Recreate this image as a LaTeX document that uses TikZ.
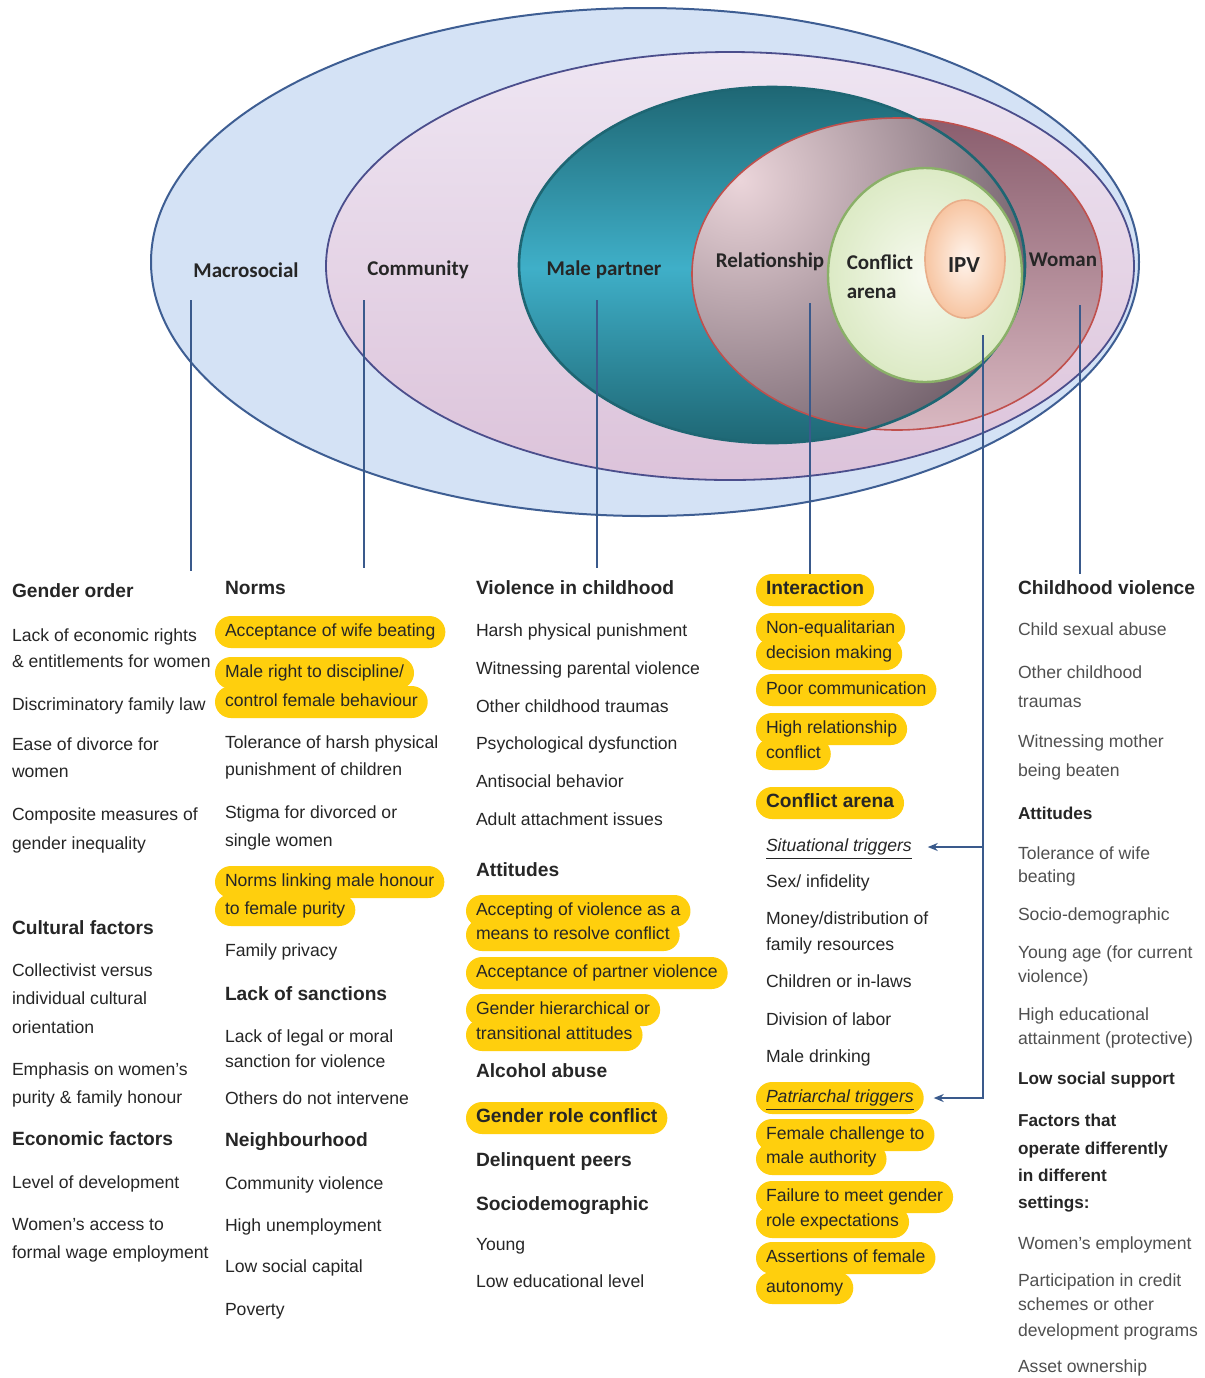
\documentclass[tikz,border=0pt]{standalone}
\usepackage{fontspec}
\setmainfont{Liberation Sans}
\newfontfamily\ecolabelfont{Carlito}
\usetikzlibrary{arrows.meta,calc,positioning}
\definecolor{EcoMacro}{HTML}{D4E2F5}
\definecolor{EcoMacroLine}{HTML}{3E5E93}
\definecolor{EcoCommTop}{HTML}{EEE5F2}
\definecolor{EcoCommBot}{HTML}{DCC3DA}
\definecolor{EcoCommLine}{HTML}{4B4E8C}
\definecolor{EcoTealDark}{HTML}{1E6673}
\definecolor{EcoTealLight}{HTML}{3FAFC8}
\definecolor{EcoWomanTop}{HTML}{8A5E6E}
\definecolor{EcoWomanBot}{HTML}{D9B8C1}
\definecolor{EcoWomanLine}{HTML}{C0504D}
\definecolor{EcoRelLight}{HTML}{EBD5DA}
\definecolor{EcoRelDark}{HTML}{544450}
\definecolor{EcoArenaIn}{HTML}{F7FAF0}
\definecolor{EcoArenaOut}{HTML}{DCEAC5}
\definecolor{EcoArenaLine}{HTML}{8AB068}
\definecolor{EcoIpvIn}{HTML}{FFF4EC}
\definecolor{EcoIpvOut}{HTML}{F7C5A2}
\definecolor{EcoIpvLine}{HTML}{E9AE8A}
\definecolor{EcoLink}{HTML}{3A5A8C}
\definecolor{EcoMark}{HTML}{FFCF0D}
\definecolor{EcoInk}{HTML}{262626}
\definecolor{EcoSoft}{HTML}{505050}
\tikzset{
  factor/.style={anchor=west,inner xsep=5pt,inner ysep=0pt,outer sep=0pt,
    minimum height=16pt,text height=6.6pt,text depth=1.9pt,rounded corners=8pt,
    text=EcoInk,font=\fontsize{8.8}{10}\selectfont},
  factorhead/.style={factor,font=\bfseries\fontsize{9.6}{11}\selectfont},
  marked/.style={factor,fill=EcoMark},
  markedhead/.style={factorhead,fill=EcoMark},
  womanfactor/.style={factor,text=EcoSoft},
  womanhead/.style={factor,font=\bfseries\fontsize{8.6}{10}\selectfont},
  level/.style={font=\ecolabelfont\bfseries\fontsize{10.5}{14.5}\selectfont,
    text=EcoInk,align=left,inner sep=0pt},
  link/.style={EcoLink,line width=0.8pt},
}

\begin{document}
\begin{tikzpicture}[x=0.5pt,y=-0.5pt]
  \useasboundingbox (0,0) rectangle (1205,1378);
  \fill[white] (0,0) rectangle (1205,1378);

  % nested levels
  \filldraw[fill=EcoMacro,draw=EcoMacroLine,line width=1pt]
    (645,262) ellipse[x radius=494,y radius=254];
  \shade[top color=EcoCommTop,bottom color=EcoCommBot]
    (730,266) ellipse[x radius=404,y radius=214];
  \draw[EcoCommLine,line width=0.9pt] (730,266) ellipse[x radius=404,y radius=214];
  \begin{scope}
    \clip (772,265) ellipse[x radius=253,y radius=178];
    \shade[top color=EcoTealDark,bottom color=EcoTealLight] (515,85) rectangle (1030,268);
    \shade[top color=EcoTealLight,bottom color=EcoTealDark] (515,268) rectangle (1030,445);
  \end{scope}
  \shade[top color=EcoWomanTop,bottom color=EcoWomanBot]
    (897,274) ellipse[x radius=205,y radius=156];
  \begin{scope}
    \clip (772,265) ellipse[x radius=253,y radius=178];
    \fill[EcoRelDark] (897,274) ellipse[x radius=205,y radius=156];
    \clip (897,274) ellipse[x radius=205,y radius=156];
    \shade[inner color=EcoRelLight,outer color=EcoRelDark] (740,180) circle[radius=380];
  \end{scope}
  \draw[EcoWomanLine,line width=0.8pt] (897,274) ellipse[x radius=205,y radius=156];
  \draw[EcoTealDark,line width=1.3pt] (772,265) ellipse[x radius=253,y radius=178];
  \shade[inner color=EcoArenaIn,outer color=EcoArenaOut]
    (925,275) ellipse[x radius=97,y radius=107];
  \draw[EcoArenaLine,line width=1.2pt] (925,275) ellipse[x radius=97,y radius=107];
  \shade[inner color=EcoIpvIn,outer color=EcoIpvOut]
    (965,259) ellipse[x radius=40,y radius=59];
  \draw[EcoIpvLine,line width=0.8pt] (965,259) ellipse[x radius=40,y radius=59];

  \node[level] (lbl-macro) at (246,270) {Macrosocial};
  \node[level] (lbl-comm) at (418,270) {Community};
  \node[level] (lbl-partner) at (604,270) {Male partner};
  \node[level] (lbl-rel) at (770,262) {Relationship};
  \node[level] (lbl-arena) at (880,277) {Conflict\\arena};
  \node[level,font=\ecolabelfont\bfseries\fontsize{11.5}{13}\selectfont]
    (lbl-ipv) at (964,265) {IPV};
  \node[level] (lbl-woman) at (1063,260) {Woman};

  % factor lists
  \foreach \sty/\yy/\txt [count=\i] in {factorhead/593/Gender order,
      factor/637/Lack of economic rights,factor/663/\& entitlements for women,
      factor/706/Discriminatory family law,factor/746/Ease of divorce for,
      factor/773/women,factor/816/Composite measures of,factor/845/gender inequality,
      factorhead/930/Cultural factors,factor/972/Collectivist versus,
      factor/1000/individual cultural,factor/1029/orientation,
      factor/1071/Emphasis on women's,factor/1099/purity \& family honour,
      factorhead/1141/Economic factors,factor/1184/Level of development,
      factor/1226/Women's access to,factor/1254/formal wage employment}
    \node[\sty] (c1-\i) at (2,\yy) {\txt};

  \foreach \sty/\yy/\txt [count=\i] in {factorhead/590/Norms,
      marked/632/Acceptance of wife beating,marked/673/{Male right to discipline/},
      marked/702/control female behaviour,factor/744/Tolerance of harsh physical,
      factor/771/punishment of children,factor/814/Stigma for divorced or,
      factor/842/single women,marked/882/Norms linking male honour,
      marked/910/to female purity,factor/952/Family privacy,
      factorhead/996/Lack of sanctions,factor/1038/Lack of legal or moral,
      factor/1063/sanction for violence,factor/1100/Others do not intervene,
      factorhead/1142/Neighbourhood,factor/1185/Community violence,
      factor/1227/High unemployment,factor/1268/Low social capital,factor/1311/Poverty}
    \node[\sty] (c2-\i) at (215,\yy) {\txt};

  \foreach \sty/\yy/\txt [count=\i] in {factorhead/590/Violence in childhood,
      factor/632/Harsh physical punishment,factor/670/Witnessing parental violence,
      factor/708/Other childhood traumas,factor/745/Psychological dysfunction,
      factor/783/Antisocial behavior,factor/821/Adult attachment issues,
      factorhead/872/Attitudes,marked/911/Accepting of violence as a,
      marked/935/means to resolve conflict,marked/973/Acceptance of partner violence,
      marked/1010/Gender hierarchical or,marked/1035/transitional attitudes,
      factorhead/1073/Alcohol abuse,markedhead/1118/Gender role conflict,
      factorhead/1162/Delinquent peers,factorhead/1206/Sociodemographic,
      factor/1246/Young,factor/1283/Low educational level}
    \node[\sty] (c3-\i) at (466,\yy) {\txt};

  \foreach \sty/\yy/\txt [count=\i] in {markedhead/590/Interaction,
      marked/629/Non-equalitarian,marked/654/decision making,
      marked/690/Poor communication,marked/729/High relationship,marked/754/conflict,
      markedhead/803/Conflict arena,
      factor/847/{\underline{\textit{Situational triggers}}},
      factor/883/{Sex/ infidelity},factor/920/{Money/distribution of},
      factor/946/family resources,factor/983/Children or in-laws,
      factor/1021/Division of labor,factor/1058/Male drinking,
      marked/1098/{\underline{\textit{Patriarchal triggers}}},
      marked/1135/Female challenge to,marked/1159/male authority,
      marked/1197/Failure to meet gender,marked/1222/role expectations,
      marked/1258/Assertions of female,marked/1288/autonomy}
    \node[\sty] (c4-\i) at (756,\yy) {\txt};

  \foreach \sty/\yy/\txt [count=\i] in {factorhead/590/Childhood violence,
      womanfactor/631/Child sexual abuse,womanfactor/674/Other childhood,
      womanfactor/703/traumas,womanfactor/743/Witnessing mother,
      womanfactor/772/being beaten,womanhead/815/Attitudes,
      womanfactor/855/Tolerance of wife,womanfactor/878/beating,
      womanfactor/916/Socio-demographic,womanfactor/954/{Young age (for current},
      womanfactor/978/{violence)},womanfactor/1016/High educational,
      womanfactor/1040/{attainment (protective)},womanhead/1080/Low social support,
      womanhead/1122/Factors that,womanhead/1150/operate differently,
      womanhead/1177/in different,womanhead/1204/settings:,
      womanfactor/1245/Women's employment,womanfactor/1282/Participation in credit,
      womanfactor/1306/schemes or other,womanfactor/1332/development programs,
      womanfactor/1368/Asset ownership}
    \node[\sty] (c5-\i) at (1008,\yy) {\txt};

  % links from levels to lists
  \coordinate (macro-foot) at (191,300);
  \coordinate (comm-foot) at (364,300);
  \coordinate (partner-foot) at (597,300);
  \coordinate (rel-foot) at (810,303);
  \coordinate (ipv-foot) at (983,335);
  \coordinate (woman-foot) at (1080,305);
  \draw[link,shorten >=3pt] (macro-foot) -- (macro-foot |- c1-1.north);
  \draw[link,shorten >=3pt] (comm-foot) -- (comm-foot |- c2-1.north);
  \draw[link,shorten >=3pt] (partner-foot) -- (partner-foot |- c3-1.north);
  \draw[link] (rel-foot) -- (rel-foot |- c4-1.north);
  \draw[link] (woman-foot) -- (woman-foot |- c5-1.north);
  \draw[link,-{Stealth[length=5pt,width=4pt]},shorten >=5pt]
    (ipv-foot) |- (c4-15.east);
  \draw[link,-{Stealth[length=5pt,width=4pt]},shorten >=3pt]
    (ipv-foot |- c4-8.east) -- (c4-8.east);
\end{tikzpicture}
\end{document}
